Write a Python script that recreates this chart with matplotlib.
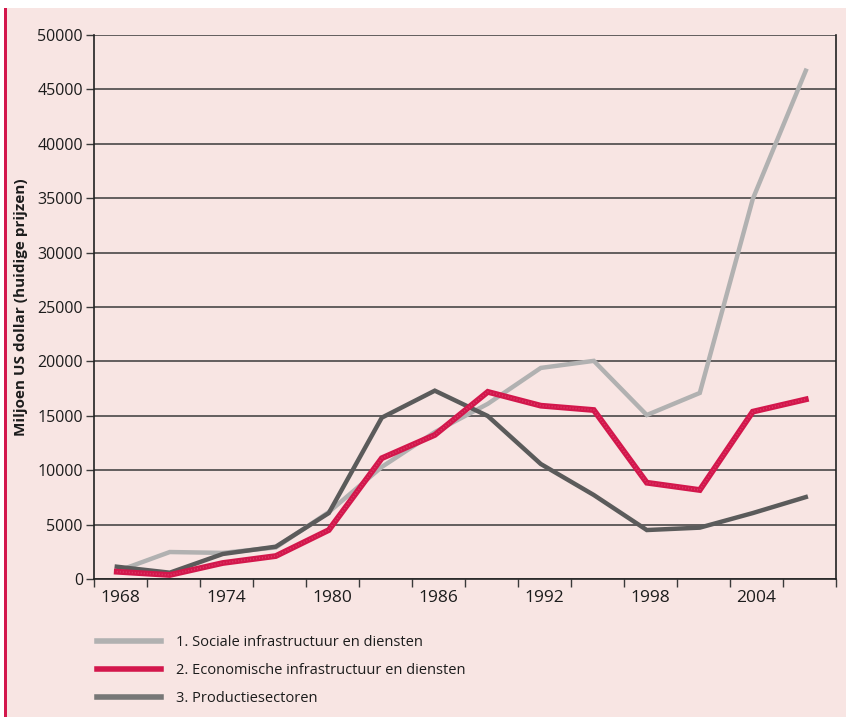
import numpy as np
import matplotlib.pyplot as plt
from matplotlib.lines import Line2D

plt.rcParams['font.family'] = ['Open Sans', 'DejaVu Sans']

# jaren (per 3 jaar)
years = [1968, 1971, 1974, 1977, 1980, 1983, 1986, 1989, 1992, 1995, 1998, 2001, 2004, 2007]
year_labels = ['1968', '', '1974', '', '1980', '', '1986', '', '1992', '', '1998', '', '2004', '']

sociaal = [700, 2480, 2400, 2900, 6150, 10300, 13500, 16100, 19400, 20050, 15070, 17100, 34930, 46720]
economisch = [670, 370, 1470, 2110, 4500, 11100, 13240, 17200, 15930, 15530, 8850, 8180, 15380, 16510]
productie = [1130, 580, 2300, 2970, 6060, 14830, 17310, 14980, 10570, 7720, 4500, 4720, 6060, 7530]

names = ['1. Sociale infrastructuur en diensten',
         '2. Economische infrastructuur en diensten',
         '3. Productiesectoren']

bg = '#f8e5e3'
c_soc = '#b1b1b1'
c_eco = '#d3174c'
c_pro = '#5b5b5b'
grid_c = '#3a3a3a'
txt = '#1c1c1c'

fig = plt.figure(figsize=(8.46, 7.17), dpi=100)
fig.patch.set_facecolor('white')
# roze achtergrond + rode balk links
fig.patches.append(plt.Rectangle((6 / 846, 0), 1, 1 - 8 / 717, transform=fig.transFigure,
                                 facecolor=bg, edgecolor='none', zorder=-2))
fig.patches.append(plt.Rectangle((4 / 846, 0), 3 / 846, 1 - 8 / 717, transform=fig.transFigure,
                                 facecolor=c_eco, edgecolor='none', zorder=-1))

ax = fig.add_axes([94 / 846, 138 / 717, 742 / 846, 544 / 717])
ax.set_facecolor(bg)

x = np.arange(len(years)) + 0.5
ax.plot(x - 0.07, sociaal, color=c_soc, lw=3.2, solid_joinstyle='miter', zorder=3)
ax.plot(x - 0.07, productie, color=c_pro, lw=3.2, solid_joinstyle='miter', zorder=4)
ax.plot(x - 0.07, economisch, color=c_eco, lw=4.2, solid_joinstyle='miter', zorder=5)
ax.plot(x - 0.07, economisch, color='#e0557b', lw=1.2, ls=(0, (0.6, 1.2)), alpha=0.6, zorder=6)

ax.set_xlim(0, len(years))
ax.set_ylim(0, 50000)
ax.set_yticks(np.arange(0, 50001, 5000))
ax.set_xticks(np.arange(0, len(years) + 1))
ax.set_xticklabels([])
ax.set_xticks(x, minor=True)
ax.set_xticklabels(year_labels, minor=True)
ax.tick_params(axis='x', which='minor', length=0, pad=8, labelsize=12.5, colors=txt)
ax.tick_params(axis='x', which='major', length=6, width=1, color=grid_c, direction='out')
ax.tick_params(axis='y', length=6, width=1, color=grid_c, labelsize=11.5, labelcolor=txt, pad=2)

ax.grid(axis='y', color=grid_c, lw=1.1, zorder=1)
ax.set_axisbelow(True)
for s in ['left', 'right', 'bottom']:
    ax.spines[s].set_color('#222222')
    ax.spines[s].set_linewidth(1.2)
ax.spines['top'].set_visible(False)

ax.set_ylabel('Miljoen US dollar (huidige prijzen)', fontsize=11, fontweight='bold', color=txt)
ax.yaxis.set_label_coords(-0.089, 0.5)

handles = [Line2D([], [], color=c_soc, lw=4),
           Line2D([], [], color=c_eco, lw=4),
           Line2D([], [], color='#777777', lw=4)]
fig.legend(handles, names, loc='upper left', bbox_to_anchor=(84 / 846, 1 - 622 / 717),
           frameon=False, fontsize=10.5, handlelength=4.4, handletextpad=1.0,
           labelspacing=0.9, labelcolor=txt)

fig.savefig('out.png', dpi=100, facecolor=fig.get_facecolor())
